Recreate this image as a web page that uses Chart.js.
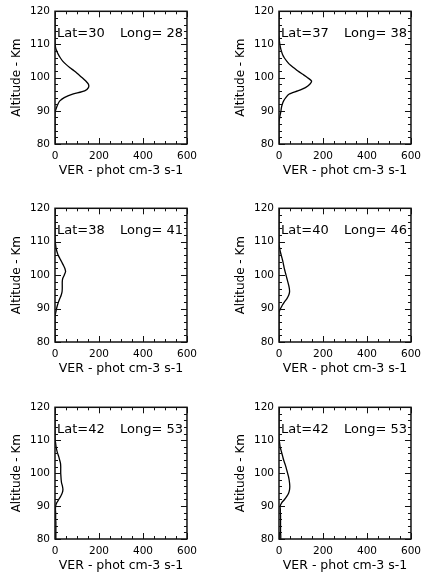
<!DOCTYPE html>
<html>
<head>
<meta charset="utf-8">
<script src="https://cdn.jsdelivr.net/npm/chart.js@4/dist/chart.umd.min.js"></script>
<style>
  html, body { margin: 0; padding: 0; background: #fff; overflow: hidden; }
  body { width: 435px; height: 577px; position: relative; }
  canvas { position: absolute; }
</style>
</head>
<body>
<script>
// ---------------- DATA ----------------
const altitudes = [80,81,82,83,84,85,86,87,88,89,90,91,92,93,94,95,96,97,98,99,100,
                   101,102,103,104,105,106,107,108,109,110,111,112,113,114,115,116,117,118,119,120];

const latitudes  = [30, 37, 38, 40, 42, 42];
const longitudes = [28, 38, 41, 46, 53, 53];

//            80 81 82 83 84 85 86 87 88 89 90 91 92 93 94 95  96  97  98  99  100 101 102 103 104 105 106 107 108 109 110 111 112 113..120
const ver1 = [ 0, 0, 0, 0, 0, 0, 0, 0, 0, 0, 2, 7,13,22,42,80,135,152,152,140,124,106, 88, 68, 50, 35, 24, 15,  8,  3,  1,  0,  0,  0,0,0,0,0,0,0,0];
const ver2 = [ 0, 0, 0, 0, 0, 0, 0, 1, 3, 6, 9,11,15,21,31,45, 85,120,140,148,130,108, 86, 67, 48, 35, 24, 16, 11,  7,  4,  2,  1,  0,0,0,0,0,0,0,0];
const ver3 = [ 0, 0, 0, 0, 0, 0, 0, 0, 1, 4, 7,11,16,22,28,32, 33, 33, 33, 35, 42, 48, 45, 38, 30, 22, 14,  9,  5,  3,  1,  0,  0,  0,0,0,0,0,0,0,0];
const ver4 = [ 0, 0, 0, 0, 0, 0, 0, 0, 0, 1, 7,15,25,36,44,48, 47, 44, 40, 36, 32, 28, 24, 21, 18, 14, 10,  6,  3,  1,  0,  0,  0,  0,0,0,0,0,0,0,0];
const ver5 = [ 4, 4, 4, 4, 4, 4, 3, 3, 3, 2, 3, 8,17,26,33,36, 34, 30, 28, 27, 26, 26, 26, 25, 21, 17, 12,  8,  5,  3,  1,  0,  0,  0,0,0,0,0,0,0,0];
const ver6 = [ 8, 8, 7, 7, 7, 7, 7, 7, 6, 6, 5,12,25,36,44,48, 49, 48, 46, 43, 39, 35, 31, 26, 21, 17, 13,  9,  5,  3,  1,  0,  0,  0,0,0,0,0,0,0,0];

const panelSeries = [ver1, ver2, ver3, ver4, ver5, ver6];

const xTicks = [0, 200, 400, 600];
const yTicks = [80, 90, 100, 110, 120];
const xTitle = 'VER - phot cm-3 s-1';
const yTitle = 'Altitude - Km';

// ---------------- LAYOUT ----------------
// plot-box left/top/right/bottom for each panel
const boxes = [
  [55, 10, 193, 144], [279, 10, 417, 144],
  [55, 207, 193, 342], [279, 207, 417, 342],
  [55, 406, 193, 539], [279, 406, 417, 539]
];
const AXW = 55, AXH = 38, PADT = 10, PADR = 10;
const FONT = '"DejaVu Sans", "Liberation Sans", sans-serif';

const decor = {
  id: 'decor',
  afterDatasetsDraw(chart, args, opts) {
    const {ctx, chartArea: a, scales: {x, y}} = chart;
    ctx.save();
    ctx.strokeStyle = '#111';
    ctx.lineWidth = 1;
    ctx.beginPath();
    // x ticks (major every 200, minor every 50), on bottom and top, inward
    for (let v = x.min; v <= x.max + 1e-6; v += 50) {
      const px = Math.round(x.getPixelForValue(v)) + 0.5;
      const len = (v % 200 === 0) ? 6 : 3;
      ctx.moveTo(px, a.bottom); ctx.lineTo(px, a.bottom - len);
      ctx.moveTo(px, a.top);    ctx.lineTo(px, a.top + len);
    }
    // y ticks (major every 10, minor every 2), on left and right, inward
    for (let v = y.min; v <= y.max + 1e-6; v += 2) {
      const py = Math.round(y.getPixelForValue(v)) + 0.5;
      const len = (v % 10 === 0) ? 6 : 3;
      ctx.moveTo(a.left, py);  ctx.lineTo(a.left + len, py);
      ctx.moveTo(a.right, py); ctx.lineTo(a.right - len, py);
    }
    ctx.stroke();
    ctx.lineWidth = 1.5;
    ctx.strokeRect(a.left, a.top, a.right - a.left, a.bottom - a.top);
    // annotation text
    ctx.fillStyle = '#000';
    ctx.font = '13px ' + FONT;
    ctx.textBaseline = 'middle';
    const ty = y.getPixelForValue(113.3);
    ctx.textAlign = 'left';
    ctx.fillText('Lat=' + opts.lat, a.left + 2, ty);
    ctx.textAlign = 'right';
    ctx.fillText('Long= ' + opts.lon, a.right - 4, ty);
    ctx.restore();
  }
};

panelSeries.forEach((ver, i) => {
  const [L, T, R, B] = boxes[i];
  const cv = document.createElement('canvas');
  const w = (R - L) + AXW + PADR;
  const h = (B - T) + PADT + AXH;
  cv.width = w; cv.height = h;
  cv.style.left = (L - AXW) + 'px';
  cv.style.top = (T - PADT) + 'px';
  cv.style.width = w + 'px';
  cv.style.height = h + 'px';
  document.body.appendChild(cv);

  new Chart(cv, {
    type: 'scatter',
    data: {
      datasets: [{
        data: altitudes.map((alt, k) => ({x: ver[k], y: alt})),
        showLine: true,
        borderColor: '#000',
        borderWidth: 1.3,
        pointRadius: 0,
        tension: 0.2,
        fill: false
      }]
    },
    options: {
      responsive: false,
      animation: false,
      devicePixelRatio: 1,
      layout: { padding: { top: PADT, right: PADR, left: 0, bottom: 0 } },
      plugins: {
        legend: { display: false },
        tooltip: { enabled: false },
        decor: { lat: latitudes[i], lon: longitudes[i] }
      },
      scales: {
        x: {
          type: 'linear', min: 0, max: 600,
          afterBuildTicks: s => { s.ticks = xTicks.map(v => ({value: v})); },
          ticks: { color: '#000', font: { family: FONT, size: 10.5 }, padding: 6, maxRotation: 0, autoSkip: false },
          grid: { display: false, drawTicks: false },
          border: { display: false },
          title: { display: true, text: xTitle, color: '#000', font: { family: FONT, size: 12.5 }, padding: { top: 0, bottom: 4 } },
          afterFit: s => { s.height = AXH; }
        },
        y: {
          type: 'linear', min: 80, max: 120,
          afterBuildTicks: s => { s.ticks = yTicks.map(v => ({value: v})); },
          ticks: { color: '#000', font: { family: FONT, size: 10.5 }, padding: 5, autoSkip: false },
          grid: { display: false, drawTicks: false },
          border: { display: false },
          title: { display: true, text: yTitle, color: '#000', font: { family: FONT, size: 12 }, padding: { top: 10, bottom: 0 } },
          afterFit: s => { s.width = AXW; }
        }
      }
    },
    plugins: [decor]
  });
});
</script>
</body>
</html>
